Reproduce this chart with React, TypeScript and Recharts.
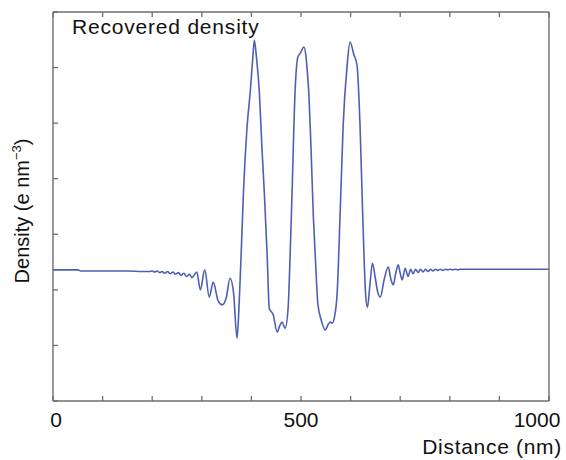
import React from "react";
import { LineChart, Line, XAxis, YAxis } from "recharts";

// distance along the scan (nm)
const distanceNm = [
  0, 50, 56, 100, 150, 180, 195, 200, 205, 210, 215, 220, 225, 231, 236, 242,
  247, 253, 258, 264, 269, 275, 280, 290, 297, 306, 315, 323, 333, 341, 349,
  357, 364, 371, 374, 377, 380, 384, 391, 398, 403, 406, 410, 416, 421, 426,
  432, 436, 444, 452, 457, 462, 468, 474, 478, 482, 488, 494, 498, 506, 510,
  513, 516, 520, 525, 529, 534, 541, 549, 555, 559, 563, 567, 573, 579, 585,
  593, 599, 606, 613, 619, 625, 630, 634, 639, 644, 650, 655, 660, 668, 676,
  681, 686, 691, 696, 700, 704, 710, 716, 721, 726, 731, 736, 741, 746, 751,
  756, 761, 766, 771, 776, 781, 786, 791, 796, 801, 806, 811, 816, 821, 830,
  840, 900, 1000,
];

// recovered density (arbitrary units, axis unlabeled)
const density = [
  2.36, 2.36, 2.34, 2.34, 2.34, 2.33, 2.33, 2.34, 2.32, 2.34, 2.31, 2.33, 2.3,
  2.33, 2.29, 2.32, 2.28, 2.31, 2.26, 2.3, 2.24, 2.28, 2.22, 2.32, 2.0, 2.36,
  1.87, 2.14, 1.8, 1.73, 1.85, 2.21, 1.95, 1.13, 1.5, 2.12, 2.8, 3.76, 4.9,
  5.6, 6.2, 6.49, 6.2, 5.56, 4.6, 3.76, 2.57, 1.67, 1.55, 1.24, 1.35, 1.42,
  1.31, 1.67, 2.6, 3.76, 5.56, 6.2, 6.25, 6.37, 6.2, 5.9, 5.5, 4.6, 3.3, 2.57,
  1.75, 1.45, 1.28, 1.38, 1.42, 1.4, 1.49, 1.96, 3.4, 4.96, 6.04, 6.46, 6.25,
  6.04, 4.96, 3.17, 1.96, 1.69, 2.1, 2.48, 2.2, 1.95, 1.87, 2.2, 2.41, 2.2,
  2.09, 2.3, 2.45, 2.3, 2.18, 2.39, 2.24, 2.37, 2.29, 2.37, 2.31, 2.37, 2.32,
  2.37, 2.33, 2.37, 2.34, 2.37, 2.35, 2.37, 2.35, 2.37, 2.36, 2.37, 2.36, 2.37,
  2.36, 2.37, 2.37, 2.37, 2.37, 2.37,
];

const xTicks = [0, 100, 200, 300, 400, 500, 600, 700, 800, 900, 1000];
const xTickLabels = [0, 500, 1000];
const yTicks = [0, 1, 2, 3, 4, 5, 6, 7];

const data = distanceNm.map((x, i) => ({ x, y: density[i] }));

const axisColor = "#6e6e6e";
const font = "'Liberation Sans', Arial, sans-serif";
const tickLen = 5;

// ticks point inward on every side of the frame
const BottomTick = (props: any) => {
  const { x, y, payload } = props;
  const shift = payload.value === 1000 ? -12 : payload.value === 0 ? 3 : 0;
  return (
    <g>
      <line x1={x} y1={y} x2={x} y2={y - tickLen} stroke={axisColor} strokeWidth={1.3} />
      {xTickLabels.includes(payload.value) && (
        <text
          x={x + shift}
          y={y + 26}
          textAnchor="middle"
          fontSize={21}
          fontFamily={font}
          fill="#111"
        >
          {payload.value}
        </text>
      )}
    </g>
  );
};

const TopTick = (props: any) => {
  const { x, y } = props;
  return <line x1={x} y1={y} x2={x} y2={y + tickLen} stroke={axisColor} strokeWidth={1.3} />;
};

const LeftTick = (props: any) => {
  const { x, y } = props;
  return <line x1={x} y1={y} x2={x + tickLen} y2={y} stroke={axisColor} strokeWidth={1.3} />;
};

const RightTick = (props: any) => {
  const { x, y } = props;
  return <line x1={x} y1={y} x2={x - tickLen} y2={y} stroke={axisColor} strokeWidth={1.3} />;
};

export default function App() {
  return (
    <div style={{ position: "absolute", left: 0, top: 0 }}>
      <LineChart
        width={566}
        height={460}
        data={data}
        margin={{ top: 11, right: 16, left: 52, bottom: 29 }}
      >
        <XAxis
          xAxisId="bottom"
          dataKey="x"
          type="number"
          domain={[0, 1000]}
          ticks={xTicks}
          height={30}
          tickSize={0}
          tickMargin={0}
          tickLine={false}
          stroke={axisColor}
          strokeWidth={1.4}
          tick={<BottomTick />}
          interval={0}
        />
        <XAxis
          xAxisId="top"
          orientation="top"
          dataKey="x"
          type="number"
          domain={[0, 1000]}
          ticks={xTicks}
          height={1}
          tickSize={0}
          tickMargin={0}
          tickLine={false}
          stroke={axisColor}
          strokeWidth={1.4}
          tick={<TopTick />}
          interval={0}
        />
        <YAxis
          yAxisId="left"
          type="number"
          domain={[0, 7]}
          ticks={yTicks}
          width={1}
          tickSize={0}
          tickMargin={0}
          tickLine={false}
          stroke={axisColor}
          strokeWidth={1.4}
          tick={<LeftTick />}
          interval={0}
        />
        <YAxis
          yAxisId="right"
          orientation="right"
          type="number"
          domain={[0, 7]}
          ticks={yTicks}
          width={1}
          tickSize={0}
          tickMargin={0}
          tickLine={false}
          stroke={axisColor}
          strokeWidth={1.4}
          tick={<RightTick />}
          interval={0}
        />
        <Line
          xAxisId="bottom"
          yAxisId="left"
          dataKey="y"
          type="monotone"
          stroke="#4b60b3"
          strokeWidth={1.6}
          dot={false}
          isAnimationActive={false}
        />
        <text x={72} y={34} fontSize={21} letterSpacing={0.8} fontFamily={font} fill="#111">
          Recovered density
        </text>
        <text
          transform="translate(29, 211) rotate(-90)"
          textAnchor="middle"
          fontSize={20}
          fontFamily={font}
          fill="#111"
        >
          Density (e nm
          <tspan fontSize={13} dy={-8}>
            −3
          </tspan>
          <tspan dy={8}>)</tspan>
        </text>
        <text
          x={562}
          y={454}
          textAnchor="end"
          fontSize={21}
          letterSpacing={0.7}
          fontFamily={font}
          fill="#111"
        >
          Distance (nm)
        </text>
      </LineChart>
    </div>
  );
}
